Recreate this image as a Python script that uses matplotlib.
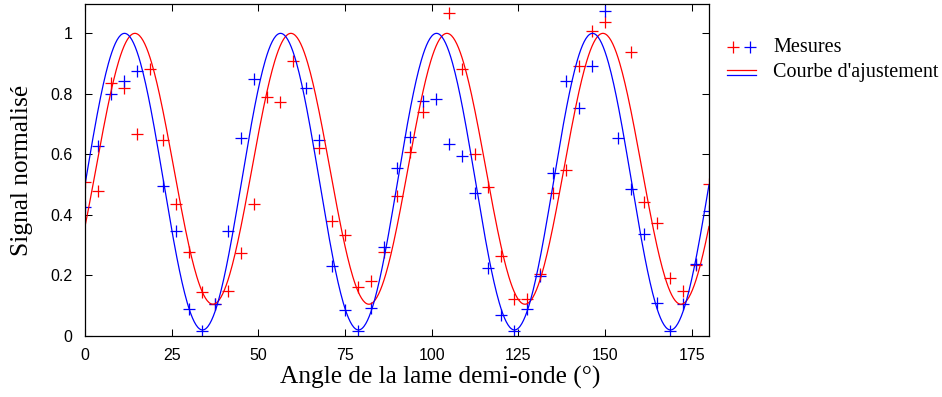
import numpy as np
import matplotlib
matplotlib.use("Agg")
import matplotlib.pyplot as plt
from matplotlib.lines import Line2D

angles_bleu = [0, 3.75, 7.5, 11.25, 15, 22.5, 26.25, 30, 33.75, 37.5, 41.25,
               45, 48.75, 63.75, 67.5, 71.25, 75, 78.75, 82.5, 86.25,
               90, 93.75, 97.5, 101.25, 105, 108.75, 112.5, 116.25, 120, 123.75,
               127.5, 131.25, 135, 138.75, 142.5, 146.25, 150, 153.75, 157.5,
               161.25, 165, 168.75, 172.5, 176.25, 180]
signal_bleu = [0.427, 0.629, 0.798, 0.844, 0.877, 0.496, 0.348, 0.089, 0.017, 0.105, 0.348,
               0.655, 0.848, 0.820, 0.648, 0.232, 0.086, 0.017, 0.094, 0.295,
               0.554, 0.656, 0.776, 0.783, 0.633, 0.596, 0.474, 0.224, 0.069, 0.017,
               0.089, 0.199, 0.537, 0.843, 0.752, 0.893, 1.075, 0.653, 0.485,
               0.337, 0.110, 0.017, 0.105, 0.238, 0.414]

angles_rouge = [0, 3.75, 7.5, 11.25, 15, 18.75, 22.5, 26.25, 30, 33.75, 37.5, 41.25,
                45, 48.75, 52.5, 56.25, 60, 67.5, 71.25, 75, 78.75, 82.5, 86.25,
                90, 93.75, 97.5, 105, 108.75, 112.5, 116.25, 120, 123.75, 127.5, 131.25,
                135, 138.75, 142.5, 146.25, 150, 157.5, 161.25, 165, 168.75, 172.5,
                176.25, 180]
signal_rouge = [0.510, 0.480, 0.835, 0.820, 0.666, 0.882, 0.648, 0.436, 0.276, 0.146, 0.105, 0.150,
                0.273, 0.435, 0.791, 0.774, 0.909, 0.622, 0.381, 0.334, 0.163, 0.183, 0.276,
                0.463, 0.609, 0.741, 1.066, 0.881, 0.601, 0.491, 0.265, 0.122, 0.122, 0.204,
                0.471, 0.548, 0.893, 1.009, 1.036, 0.937, 0.444, 0.374, 0.191, 0.150,
                0.235, 0.501]

# parametres des courbes d'ajustement : y = c + a*cos^2(pi*(t-t0)/P)
fit_bleu = dict(c=0.02, a=0.98, t0=11.4, P=45.0)
fit_rouge = dict(c=0.105, a=0.895, t0=14.4, P=45.0)

xticks = [0, 25, 50, 75, 100, 125, 150, 175]
yticks = [0, 0.2, 0.4, 0.6, 0.8, 1]
ytick_labels = ["0", "0.2", "0.4", "0.6", "0.8", "1"]


def modele(t, c, a, t0, P):
    return c + a * np.cos(np.pi * (t - t0) / P) ** 2


serif = ["Liberation Serif", "DejaVu Serif"]
sans = ["Liberation Sans", "DejaVu Sans"]

fig = plt.figure(figsize=(9.42, 3.97), dpi=100)
ax = fig.add_axes([85 / 942, 61 / 397, 624 / 942, 332 / 397])

t = np.linspace(0, 180, 721)
ax.plot(angles_rouge, signal_rouge, ls="none", marker="+", color="#ff0000",
        ms=9, mew=0.9)
ax.plot(angles_bleu, signal_bleu, ls="none", marker="+", color="#0000ff",
        ms=9, mew=0.9)
ax.plot(t, modele(t, **fit_rouge), color="#ff0000", lw=0.9)
ax.plot(t, modele(t, **fit_bleu), color="#0000ff", lw=0.9)

ax.set_xlim(0, 180)
ax.set_ylim(0, 1.097)
ax.set_xticks(xticks)
ax.set_yticks(yticks)
ax.set_yticklabels(ytick_labels)
ax.tick_params(direction="in", length=5, width=0.75, top=True, right=True,
               labelsize=11.5, pad=9)
for lab in ax.get_xticklabels() + ax.get_yticklabels():
    lab.set_family(sans)
for s in ax.spines.values():
    s.set_linewidth(0.9)

ax.set_xlabel("Angle de la lame demi-onde (°)", family=serif, fontsize=18.3)
ax.xaxis.set_label_coords(0.569, -0.09)
ax.set_ylabel("Signal normalisé", family=serif, fontsize=18.3, labelpad=12)

# legende dessinee a la main (positions en pixels de la figure)
W, H = 942, 397
def fx(x):
    return x / W
def fy(y):
    return 1 - y / H

fig.add_artist(Line2D([fx(733)], [fy(47)], marker="+", color="#ff0000", ms=9, mew=0.9,
                      ls="none", transform=fig.transFigure))
fig.add_artist(Line2D([fx(750)], [fy(47)], marker="+", color="#0000ff", ms=9, mew=0.9,
                      ls="none", transform=fig.transFigure))
fig.add_artist(Line2D([fx(727), fx(756)], [fy(70), fy(70)], color="#ff0000", lw=0.9,
                      transform=fig.transFigure))
fig.add_artist(Line2D([fx(727), fx(756)], [fy(75), fy(75)], color="#0000ff", lw=0.9,
                      transform=fig.transFigure))
fig.text(fx(773), fy(47), "Mesures", family=serif, fontsize=14.5, va="center", ha="left")
fig.text(fx(773), fy(72), "Courbe d'ajustement", family=serif, fontsize=14.5,
         va="center", ha="left")

fig.savefig("out.png", dpi=100)
